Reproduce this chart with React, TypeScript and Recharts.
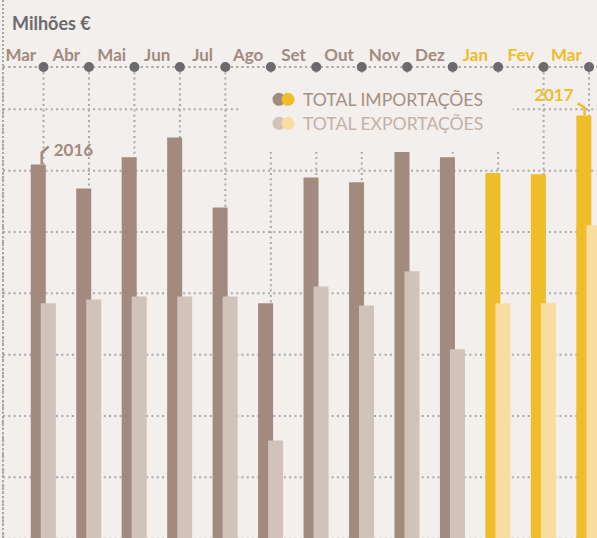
import { BarChart, Bar, XAxis, YAxis, CartesianGrid, Cell, Legend, LabelList } from "recharts";

// Comércio internacional: importações vs exportações (Milhões €)

const months = ["Mar", "Abr", "Mai", "Jun", "Jul", "Ago", "Set", "Out", "Nov", "Dez", "Jan", "Fev", "Mar"];
const years = ["2016", "2016", "2016", "2016", "2016", "2016", "2016", "2016", "2016", "2016", "2017", "2017", "2017"];
const importacoes = [5050, 4855, 5110, 5270, 4700, 3920, 4945, 4905, 5180, 5110, 4980, 4970, 5450];
const exportacoes = [3920, 3950, 3975, 3975, 3975, 2800, 4055, 3900, 4180, 3545, 3920, 3920, 4555];
const yTicks = [2000, 2500, 3000, 3500, 4000, 4500, 5000, 5500];
const yDomain = [1500, 5845];

const BG = "#f3efec";
const FONT = "Lato, 'Open Sans', sans-serif";
const GRID = "#a9a9a9";
const COLORS = {
  imp: { "2016": "#a38a7e", "2017": "#efbc2a" },
  exp: { "2016": "#d1c2ba", "2017": "#f9dc9f" },
  label: { "2016": "#a38a7e", "2017": "#efbc2a" },
};

const legendItems = [
  { name: "TOTAL IMPORTAÇÕES", series: "imp", text: "#a58f84" },
  { name: "TOTAL EXPORTAÇÕES", series: "exp", text: "#c2b1a7" },
];

// year tag only on the first and last bar
const data = months.map((m, i) => ({
  key: `${m} ${years[i]}`,
  month: m,
  year: years[i],
  importacoes: importacoes[i],
  exportacoes: exportacoes[i],
  yearTag: i === 0 || i === months.length - 1 ? years[i] : "",
}));

function MonthTick(props: any) {
  const { x, y, index } = props;
  const yr = years[index];
  return (
    <g>
      <text
        x={x - 22.7}
        y={y - 6}
        textAnchor="middle"
        fontFamily={FONT}
        fontWeight={700}
        fontSize={17}
        fill={COLORS.label[yr as "2016" | "2017"]}
      >
        {months[index]}
      </text>
      <circle cx={x} cy={y} r={5} fill="#6b6b6d" />
    </g>
  );
}

function EmptyTick() {
  return <g />;
}

function YearTag(props: any) {
  const { x, y, width, value } = props;
  if (!value) return null;
  const color = COLORS.label[value as "2016" | "2017"];
  if (value === "2016") {
    const hx = x + width * 0.73;
    return (
      <g>
        <path d={`M${hx},${y} V${y - 12} L${hx + 7},${y - 18}`} stroke={color} strokeWidth={2.5} fill="none" />
        <text x={hx + 12} y={y - 9} fontFamily={FONT} fontWeight={700} fontSize={17} fill={color}>
          {value}
        </text>
      </g>
    );
  }
  const hx = x + width * 0.55;
  return (
    <g>
      <path d={`M${hx - 7},${y - 12} L${hx},${y - 8} V${y}`} stroke={color} strokeWidth={2.5} fill="none" />
      <text x={hx - 11} y={y - 14} textAnchor="end" fontFamily={FONT} fontWeight={700} fontSize={17} fill={color}>
        {value}
      </text>
    </g>
  );
}

function LegendBox() {
  return (
    <svg width={273} height={79} style={{ display: "block" }}>
      {legendItems.map((item, i) => {
        const cy = 26.3 + i * 24;
        const c = COLORS[item.series as "imp" | "exp"];
        return (
          <g key={item.name}>
            <circle cx={39} cy={cy} r={6.5} fill={c["2016"]} />
            <circle cx={48} cy={cy} r={6.5} fill={c["2017"]} />
            <text x={63} y={cy + 7} fontFamily={FONT} fontSize={17.6} fill={item.text}>
              {item.name}
            </text>
          </g>
        );
      })}
    </svg>
  );
}

export default function App() {
  return (
    <div
      style={{
        position: "absolute",
        top: 0,
        left: 0,
        width: 597,
        height: 538,
        overflow: "hidden",
        background: BG,
      }}
    >
      <div
        style={{
          position: "absolute",
          left: 12,
          top: 14,
          fontFamily: FONT,
          fontWeight: 700,
          fontSize: 18,
          lineHeight: "18px",
          color: "#6a6a6c",
        }}
      >
        Milhões €
      </div>
      <div
        style={{
          position: "absolute",
          left: 2,
          top: 0,
          height: 538,
          borderLeft: `2px dotted ${GRID}`,
        }}
      />
      <BarChart
        width={640}
        height={600}
        data={data}
        margin={{ top: 37, right: 0, left: 3, bottom: 0 }}
        barGap={-5}
        style={{ position: "absolute", top: 0, left: 0 }}
      >
        <CartesianGrid stroke={GRID} strokeWidth={2} strokeDasharray="2 3.3" />
        <XAxis
          dataKey="key"
          orientation="top"
          height={30}
          padding={{ left: 17.77, right: 28.2 }}
          tickSize={0}
          tickMargin={0}
          tickLine={false}
          interval={0}
          axisLine={{ stroke: GRID, strokeWidth: 2, strokeDasharray: "2 3.3" }}
          tick={<MonthTick />}
        />
        <YAxis
          width={0}
          domain={yDomain}
          ticks={yTicks}
          interval={0}
          allowDataOverflow
          tick={<EmptyTick />}
          axisLine={false}
          tickLine={false}
        />
        <Legend
          layout="horizontal"
          verticalAlign="middle"
          align="center"
          content={<LegendBox />}
          wrapperStyle={{ top: 73, left: 240, width: 273, height: 79, background: BG }}
        />
        <Bar dataKey="importacoes" name="TOTAL IMPORTAÇÕES" barSize={15} isAnimationActive={false}>
          {data.map((d, i) => (
            <Cell key={`imp-${i}`} fill={COLORS.imp[d.year as "2016" | "2017"]} />
          ))}
          <LabelList dataKey="yearTag" content={<YearTag />} />
        </Bar>
        <Bar dataKey="exportacoes" name="TOTAL EXPORTAÇÕES" barSize={15} isAnimationActive={false}>
          {data.map((d, i) => (
            <Cell key={`exp-${i}`} fill={COLORS.exp[d.year as "2016" | "2017"]} />
          ))}
        </Bar>
      </BarChart>
    </div>
  );
}
